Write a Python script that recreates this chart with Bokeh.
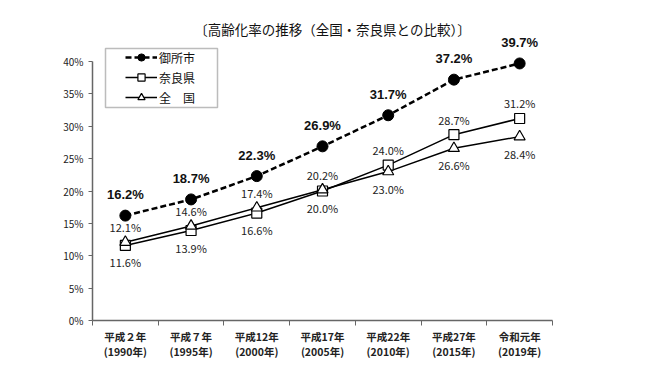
from bokeh.plotting import figure
from bokeh.models import (FixedTicker, PrintfTickFormatter, Legend, LegendItem,
                          Label, BoxAnnotation)
from bokeh.core.properties import value
from bokeh.embed import file_html
from bokeh.resources import INLINE

# ---- data ----
categories = ["平成２年\n(1990年)", "平成７年\n(1995年)", "平成12年\n(2000年)",
              "平成17年\n(2005年)", "平成22年\n(2010年)", "平成27年\n(2015年)",
              "令和元年\n(2019年)"]
gose = [16.2, 18.7, 22.3, 26.9, 31.7, 37.2, 39.7]
nara = [11.6, 13.9, 16.6, 20.0, 24.0, 28.7, 31.2]
zenkoku = [12.1, 14.6, 17.4, 20.2, 23.0, 26.6, 28.4]
y_ticks = [0, 5, 10, 15, 20, 25, 30, 35, 40]
series_names = ["御所市", "奈良県", "全　国"]
title_text = "〔高齢化率の推移（全国・奈良県との比較）〕"

JP = value("Noto Sans CJK JP")

n = len(categories)
xs = [i + 0.5 for i in range(n)]

p = figure(frame_width=460, frame_height=312, x_range=(0, n), y_range=(0, 48.19),
           output_backend="svg", toolbar_location=None,
           min_border_left=92, min_border_right=89,
           min_border_top=8, min_border_bottom=40)
p.outline_line_color = None
p.xgrid.visible = False
p.ygrid.visible = False
p.background_fill_color = "white"

# y axis
ya = p.yaxis[0]
ya.ticker = FixedTicker(ticks=y_ticks, minor_ticks=[])
ya.formatter = PrintfTickFormatter(format="%d%%")
ya.bounds = (0, 40)
ya.axis_line_color = "#666666"
ya.axis_line_width = 1.5
ya.major_tick_in = 0
ya.major_tick_out = 4
ya.major_tick_line_color = "#666666"
ya.minor_tick_line_color = None
ya.major_label_text_font = "Noto Sans CJK JP"
ya.major_label_text_font_size = "10px"
ya.major_label_text_color = "#222222"
ya.major_label_standoff = 5

# x axis
xa = p.xaxis[0]
xa.ticker = FixedTicker(ticks=xs, minor_ticks=list(range(n + 1)))
xa.major_label_overrides = {xs[i]: categories[i] for i in range(n)}
xa.axis_line_color = "#666666"
xa.axis_line_width = 1.5
xa.major_tick_in = 0
xa.major_tick_out = 0
xa.minor_tick_in = 0
xa.minor_tick_out = 5
xa.minor_tick_line_color = "#666666"
xa.major_label_text_font = "Noto Sans CJK JP"
xa.major_label_text_font_size = "10.5px"
xa.major_label_text_font_style = "bold"
xa.major_label_text_color = "#222222"
xa.major_label_text_line_height = 1.05
xa.major_label_standoff = 3

# lines & markers
r_n_line = p.line(xs, nara, line_color="black", line_width=1.5)
r_z_line = p.line(xs, zenkoku, line_color="black", line_width=1.5)
r_n_pts = p.scatter(xs, nara, marker="square", size=10, fill_color="white",
                    line_color="black", line_width=1.2)
r_z_pts = p.scatter(xs, zenkoku, marker="triangle", size=11, fill_color="white",
                    line_color="black", line_width=1.2)
r_g_line = p.line(xs, gose, line_color="black", line_width=2.5, line_dash="6 3")
r_g_pts = p.scatter(xs, gose, marker="circle", size=11, fill_color="black",
                    line_color="black")

# value labels
p.text(xs, gose, text=[f"{v:.1f}%" for v in gose], y_offset=-21,
       text_align="center", text_baseline="middle",
       text_font=value("Liberation Sans"), text_font_style="bold",
       text_font_size="13px", text_color="#111111")

nara_off = [-15 if a > b else 17 for a, b in zip(nara, zenkoku)]
zen_off = [-15 if b >= a else 17 for a, b in zip(nara, zenkoku)]
p.text(xs, nara, text=[f"{v:.1f}%" for v in nara], y_offset=nara_off,
       text_align="center", text_baseline="middle", text_font=JP,
       text_font_size="11px", text_color="#222222")
p.text(xs, zenkoku, text=[f"{v:.1f}%" for v in zenkoku], y_offset=zen_off,
       text_align="center", text_baseline="middle", text_font=JP,
       text_font_size="11px", text_color="#222222")

# legend
legend = Legend(items=[
    LegendItem(label=series_names[0], renderers=[r_g_line, r_g_pts]),
    LegendItem(label=series_names[1], renderers=[r_n_line, r_n_pts]),
    LegendItem(label=series_names[2], renderers=[r_z_line, r_z_pts]),
], location=(33, 214), padding=0, spacing=2, glyph_width=32, glyph_height=18,
    label_standoff=2, label_text_font="Noto Sans CJK JP",
    label_text_font_size="12px", label_text_color="#111111",
    border_line_color=None, background_fill_alpha=0, margin=0)
p.add_layout(legend)

box = BoxAnnotation(left=13, right=125, bottom=213, top=272,
                    left_units="screen", right_units="screen",
                    bottom_units="screen", top_units="screen",
                    fill_alpha=0, line_color="#222222", line_width=1.5)
p.add_layout(box)

# title
p.add_layout(Label(x=240, y=292, x_units="screen", y_units="screen",
                   text=title_text, text_align="center", text_baseline="middle",
                   text_font="Noto Sans CJK JP", text_font_size="13.5px",
                   text_color="#111111"))

open("out.html", "w").write(file_html(p, INLINE))
